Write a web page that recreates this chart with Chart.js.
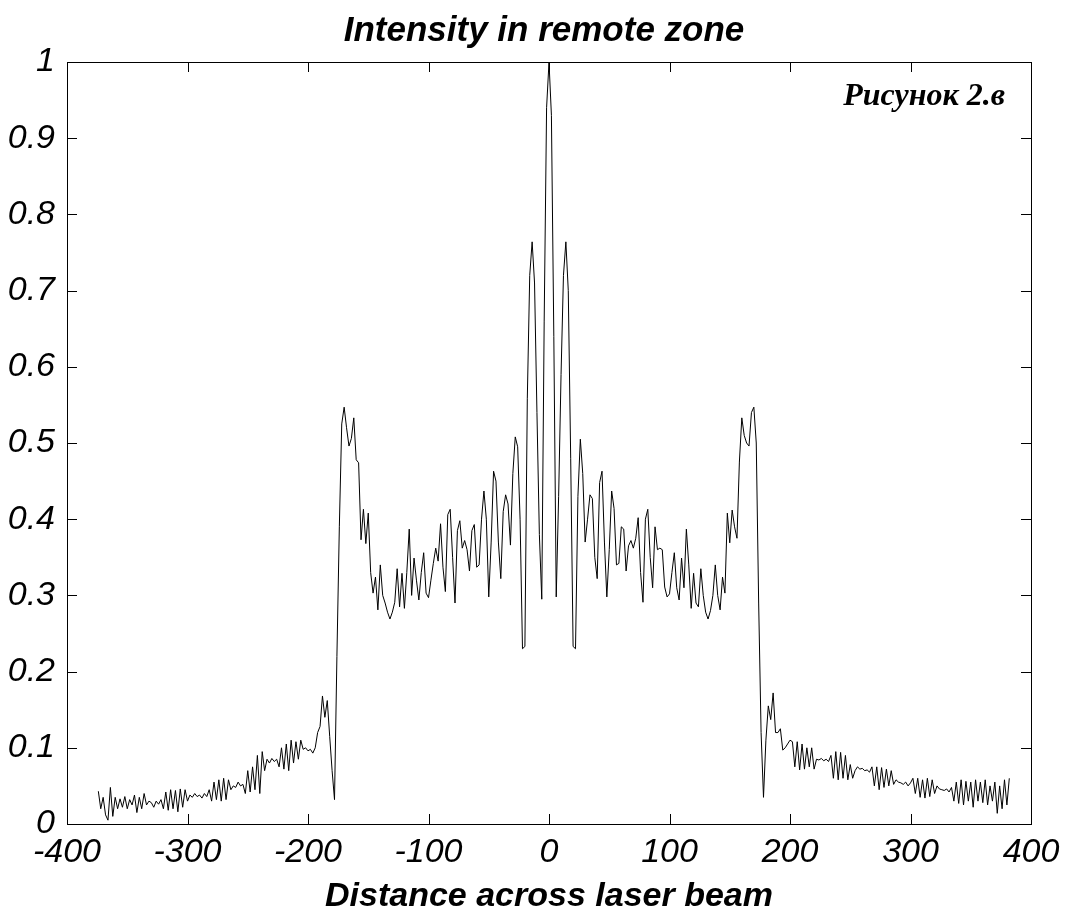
<!DOCTYPE html>
<html>
<head>
<meta charset="utf-8">
<script src="https://cdn.jsdelivr.net/npm/chart.js@4"></script>
<style>
  html, body { margin: 0; padding: 0; background: #fff; }
  #wrap { width: 1070px; height: 916px; position: relative; }
</style>
</head>
<body>
<div id="wrap"><canvas id="chart"></canvas></div>
<script>
// Intensity profile across the beam (sample step 2)
const stepX = 2;

// x = -374 ... -190
const tailLeft = [
  0.043, 0.02, 0.035, 0.012, 0.005, 0.048, 0.01, 0.035, 0.02, 0.033,
  0.022, 0.036, 0.02, 0.032, 0.025, 0.038, 0.015, 0.035, 0.02, 0.04,
  0.025, 0.03, 0.028, 0.022, 0.03, 0.026, 0.032, 0.02, 0.042, 0.018,
  0.045, 0.02, 0.044, 0.016, 0.046, 0.022, 0.045, 0.03, 0.038, 0.035,
  0.04, 0.036, 0.038, 0.034, 0.04, 0.036, 0.045, 0.03, 0.055, 0.032,
  0.058, 0.03, 0.06, 0.032, 0.058, 0.045, 0.05, 0.048, 0.055, 0.05,
  0.052, 0.04, 0.07, 0.042, 0.075, 0.045, 0.09, 0.04, 0.095, 0.07,
  0.085, 0.08, 0.086, 0.082, 0.085, 0.075, 0.1, 0.072, 0.105, 0.07,
  0.11, 0.08, 0.108, 0.085, 0.11, 0.098, 0.1, 0.096, 0.098, 0.093,
  0.1, 0.12, 0.128
];
// x = -188 ... -102
const shoulderLeft = [
  0.168, 0.14, 0.162, 0.115, 0.07, 0.032, 0.22, 0.39, 0.525, 0.547,
  0.52, 0.496, 0.506, 0.533, 0.478, 0.474, 0.373, 0.413, 0.368, 0.408,
  0.33, 0.303, 0.324, 0.281, 0.34, 0.3, 0.29, 0.278, 0.269, 0.278,
  0.291, 0.335, 0.285, 0.329, 0.283, 0.33, 0.387, 0.3, 0.349, 0.32,
  0.294, 0.33, 0.356, 0.303
];
// x = -100 ... 100
const core = [
  0.297, 0.32, 0.342, 0.362, 0.345, 0.394, 0.337, 0.305, 0.406, 0.413,
  0.35, 0.29, 0.385, 0.398, 0.362, 0.372, 0.36, 0.332, 0.385, 0.393,
  0.337, 0.34, 0.40, 0.437, 0.40, 0.298, 0.37, 0.463, 0.45, 0.37,
  0.322, 0.41, 0.432, 0.42, 0.366, 0.46, 0.508, 0.495, 0.40, 0.23,
  0.233, 0.558, 0.72, 0.764, 0.71, 0.54, 0.38, 0.295, 0.66, 0.94,
  1.0,
  0.93, 0.64, 0.298, 0.43, 0.59, 0.72, 0.764, 0.70, 0.48, 0.233,
  0.23, 0.43, 0.505, 0.46, 0.37, 0.40, 0.432, 0.427, 0.35, 0.322,
  0.448, 0.463, 0.37, 0.298, 0.36, 0.437, 0.414, 0.34, 0.342, 0.39,
  0.387, 0.332, 0.365, 0.372, 0.362, 0.375, 0.402, 0.33, 0.291, 0.40,
  0.413, 0.35, 0.31, 0.39, 0.36, 0.362, 0.36, 0.311, 0.298, 0.302
];
// x = 102 ... 188
const shoulderRight = [
  0.33, 0.356, 0.31, 0.294, 0.349, 0.31, 0.387, 0.34, 0.283, 0.329,
  0.29, 0.285, 0.335, 0.30, 0.278, 0.269, 0.28, 0.30, 0.34, 0.30,
  0.281, 0.324, 0.303, 0.408, 0.369, 0.412, 0.39, 0.375, 0.475, 0.533,
  0.51, 0.50, 0.496, 0.54, 0.547, 0.50, 0.29, 0.12, 0.035, 0.11,
  0.155, 0.137, 0.172, 0.12
];
// x = 190 ... 382
const tailRight = [
  0.12, 0.125, 0.097, 0.1, 0.105, 0.11, 0.108, 0.075, 0.108, 0.071,
  0.105, 0.072, 0.1, 0.075, 0.1, 0.072, 0.085, 0.084, 0.086, 0.083,
  0.085, 0.082, 0.09, 0.06, 0.095, 0.058, 0.094, 0.06, 0.09, 0.058,
  0.078, 0.06, 0.07, 0.075, 0.072, 0.073, 0.07, 0.071, 0.068, 0.075,
  0.05, 0.075, 0.045, 0.074, 0.048, 0.072, 0.05, 0.07, 0.052, 0.058,
  0.055, 0.054, 0.052, 0.055, 0.05, 0.054, 0.06, 0.04, 0.06, 0.035,
  0.058, 0.034, 0.06, 0.036, 0.058, 0.04, 0.05, 0.046, 0.045, 0.044,
  0.046, 0.042, 0.048, 0.03, 0.055, 0.027, 0.058, 0.025, 0.056, 0.03,
  0.055, 0.022, 0.058, 0.03, 0.055, 0.028, 0.058, 0.025, 0.05, 0.03,
  0.055, 0.014, 0.05, 0.02, 0.058, 0.025, 0.06
];

const segments = [tailLeft, shoulderLeft, core, shoulderRight, tailRight];
const segmentStarts = [-374, -188, -100, 102, 190];

const xTicks = [-400, -300, -200, -100, 0, 100, 200, 300, 400];
const yTicks = [0, 0.1, 0.2, 0.3, 0.4, 0.5, 0.6, 0.7, 0.8, 0.9, 1];

const chartTitle = 'Intensity in remote zone';
const xTitle = 'Distance across laser beam';
const figureNote = 'Рисунок 2.в';

const points = [];
segments.forEach((seg, k) => {
  seg.forEach((v, i) => points.push({ x: segmentStarts[k] + i * stepX, y: v }));
});

const sansFont = "'Liberation Sans', Arial, Helvetica, sans-serif";
const serifFont = "'Liberation Serif', 'Times New Roman', serif";

// frame, inward tick marks on all four sides, title and note
const framePlugin = {
  id: 'frame',
  afterDraw(chart) {
    const { ctx, chartArea: a, scales } = chart;
    const len = 10;
    ctx.save();
    ctx.strokeStyle = '#000';
    ctx.lineWidth = 1;
    ctx.strokeRect(a.left + 0.5, a.top + 0.5, a.right - a.left, a.bottom - a.top);
    ctx.beginPath();
    scales.x.ticks.forEach(t => {
      const px = Math.round(scales.x.getPixelForValue(t.value)) + 0.5;
      ctx.moveTo(px, a.bottom); ctx.lineTo(px, a.bottom - len);
      ctx.moveTo(px, a.top); ctx.lineTo(px, a.top + len);
    });
    scales.y.ticks.forEach(t => {
      const py = Math.round(scales.y.getPixelForValue(t.value)) + 0.5;
      ctx.moveTo(a.left, py); ctx.lineTo(a.left + len, py);
      ctx.moveTo(a.right, py); ctx.lineTo(a.right - len, py);
    });
    ctx.stroke();

    ctx.fillStyle = '#000';
    ctx.font = 'italic bold 35px ' + sansFont;
    ctx.textAlign = 'center';
    ctx.textBaseline = 'middle';
    ctx.fillText(chartTitle, 544, 31);

    ctx.font = 'italic bold 32px ' + serifFont;
    ctx.textAlign = 'right';
    ctx.textBaseline = 'alphabetic';
    ctx.fillText(figureNote, a.right - 26, a.top + 43);
    ctx.restore();
  }
};

new Chart(document.getElementById('chart'), {
  type: 'line',
  data: {
    datasets: [{
      data: points,
      borderColor: '#000',
      borderWidth: 1,
      pointRadius: 0,
      tension: 0,
      fill: false
    }]
  },
  options: {
    responsive: true,
    maintainAspectRatio: false,
    animation: false,
    layout: { padding: { top: 62, right: 39, left: 0, bottom: 0 } },
    plugins: {
      legend: { display: false },
      tooltip: { enabled: false },
      title: { display: false }
    },
    scales: {
      x: {
        type: 'linear',
        min: -400,
        max: 400,
        afterBuildTicks: s => { s.ticks = xTicks.map(v => ({ value: v })); },
        afterFit: s => { s.height = 92; },
        grid: { display: false },
        border: { display: false },
        ticks: {
          color: '#000',
          padding: 0,
          maxRotation: 0,
          font: { family: sansFont, size: 34, style: 'italic' }
        },
        title: {
          display: true,
          text: xTitle,
          color: '#000',
          padding: { top: 0, bottom: 1 },
          font: { family: sansFont, size: 34, style: 'italic', weight: 'bold', lineHeight: 1.1 }
        }
      },
      y: {
        min: 0,
        max: 1,
        afterBuildTicks: s => { s.ticks = yTicks.map(v => ({ value: v })); },
        afterFit: s => { s.width = 67; },
        grid: { display: false },
        border: { display: false },
        ticks: {
          color: '#000',
          padding: 4,
          font: { family: sansFont, size: 34, style: 'italic' },
          callback: v => String(Number(v.toFixed(1)))
        }
      }
    }
  },
  plugins: [framePlugin]
});
</script>
</body>
</html>
